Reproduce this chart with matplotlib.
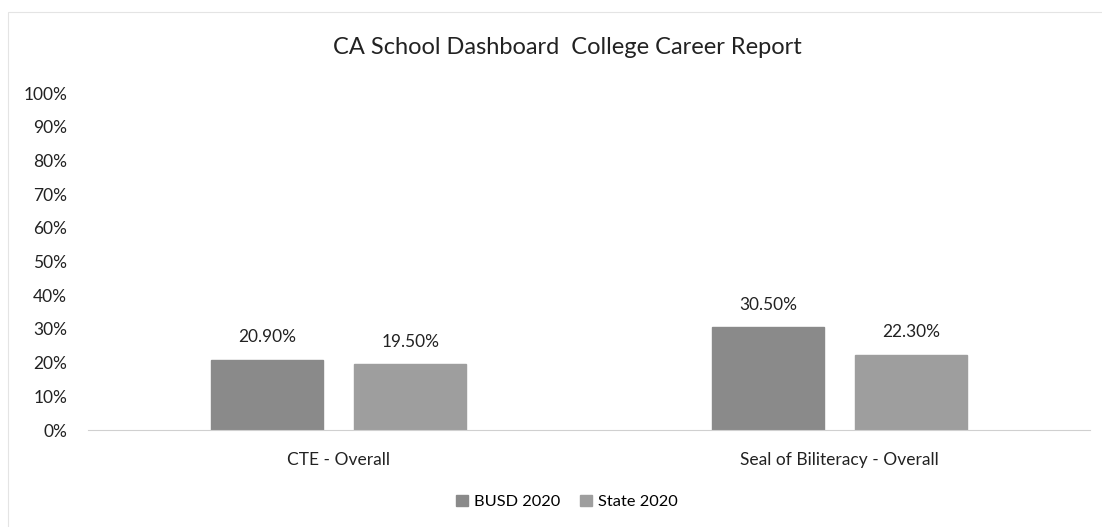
import matplotlib.pyplot as plt
import numpy as np
from matplotlib.patches import Rectangle
from matplotlib.ticker import PercentFormatter

plt.rcParams["font.family"] = ["Lato", "DejaVu Sans"]

categories = ["CTE - Overall", "Seal of Biliteracy - Overall"]
series_names = ["BUSD 2020", "State 2020"]
busd_2020 = [20.9, 30.5]
state_2020 = [19.5, 22.3]
colors = ["#8a8a8a", "#9e9e9e"]

fig = plt.figure(figsize=(11.02, 5.27), dpi=100)
fig.patch.set_facecolor("white")
ax = fig.add_axes([0.0799, 0.184, 0.9093, 0.6395])

# faint outer chart frame
fig.patches.append(Rectangle((0.007, -0.01), 1.1, 0.988, transform=fig.transFigure,
                             fill=False, edgecolor="#e4e4e4", linewidth=0.8))

x = np.arange(len(categories))
w = 0.224
off = 0.143
for vals, dx, name, c in zip([busd_2020, state_2020], [-off, off], series_names, colors):
    bars = ax.bar(x + dx, vals, w, color=c, label=name, edgecolor=c)
    for b, v in zip(bars, vals):
        ax.text(b.get_x() + b.get_width() / 2, v + 4.3, f"{v:.2f}%",
                ha="center", va="bottom", fontsize=12.4, color="#222222")

ax.set_xlim(-0.5, 1.5)
ax.set_ylim(0, 100)
ax.set_yticks(range(0, 101, 10))
ax.yaxis.set_major_formatter(PercentFormatter(decimals=0))
ax.set_xticks(x)
ax.set_xticklabels(categories)
ax.tick_params(axis="both", length=0, labelsize=12.5, labelcolor="#222222")
ax.tick_params(axis="x", pad=16)
ax.tick_params(axis="y", pad=15)
for s in ["top", "right", "left"]:
    ax.spines[s].set_visible(False)
ax.spines["bottom"].set_color("#d0d0d0")

fig.text(567 / 1102, 1 - 47 / 527, "CA School Dashboard  College Career Report",
         ha="center", va="center", fontsize=17, color="#222222")

fig.legend(loc="center", bbox_to_anchor=(567 / 1102, 1 - 502 / 527), ncol=2,
           frameon=False, fontsize=11.8, handlelength=0.7, handleheight=0.7,
           handletextpad=0.4, columnspacing=1.2)

fig.savefig("out.png", dpi=100)
